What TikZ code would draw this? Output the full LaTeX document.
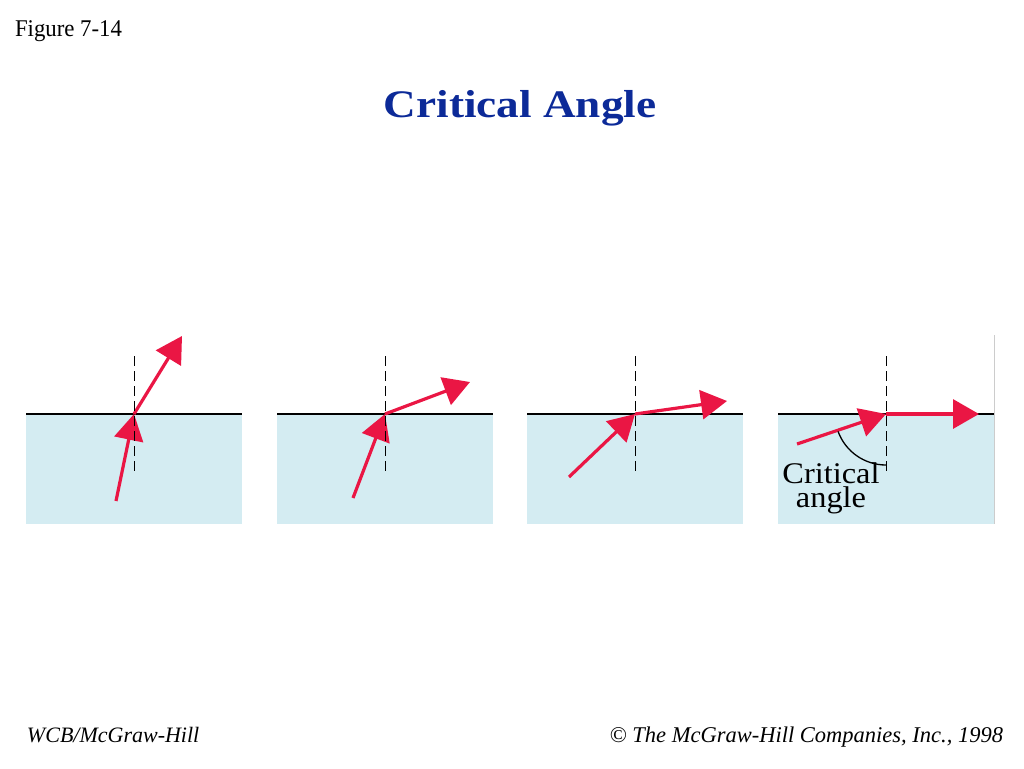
\documentclass[tikz,border=0pt]{standalone}
\usepackage{fontspec}
\setmainfont{Liberation Serif}
\newfontfamily\titlefont[FakeStretch=1.16]{Liberation Serif}
\newfontfamily\figfont[FakeStretch=0.95]{Liberation Serif}
\newfontfamily\labelfont[FakeStretch=1.08]{Liberation Serif}
\usetikzlibrary{arrows.meta}
\definecolor{rayred}{RGB}{234,22,68}
\definecolor{water}{RGB}{212,236,242}
\definecolor{titleblue}{RGB}{12,42,152}

\begin{document}
\begin{tikzpicture}[x=1pt, y=-1pt,
        ray/.style={line width=3.2pt, rayred, -{Triangle[length=26pt, width=29pt]}},
        surface/.style={line width=2.5pt, black},
        normalln/.style={line width=1pt, black, dash pattern=on 10pt off 5pt},
        txt/.style={inner sep=0pt, outer sep=0pt}]
        \useasboundingbox (0,0) rectangle (1024,768);

        % texts
        \node[txt, anchor=base west] (fig) at (15,37) {\fontsize{24}{28}\figfont Figure 7-14};
        \node[txt, anchor=base, text=titleblue] (title) at (520,117) {\fontsize{39}{45}\titlefont\bfseries Critical Angle};
        \node[txt, anchor=base west] (pub) at (27,742) {\fontsize{22}{26}\selectfont\itshape WCB/McGraw-Hill};
        \node[txt, anchor=base east] (copy) at (1003,742) {\fontsize{22.5}{26}\selectfont\itshape \textcopyright\ The McGraw-Hill Companies, Inc., 1998};

        % water and surface
        \foreach \px/\nm in {26/1, 277/2, 527/3, 778/4} {
            \fill[water] (\px,415) rectangle (\px+216,524);
            \draw[surface] (\px,414) -- (\px+216,414);
            \coordinate (O\nm) at (\px+108,414);
        }
        \draw[gray!40, line width=1pt] (994,335) -- (994,524);

        \coordinate (I1) at (116,501);
        \coordinate (R1) at (182,336);
        \coordinate (I2) at (353,498);
        \coordinate (R2) at (470,382);
        \coordinate (I3) at (569,477);
        \coordinate (R3) at (727,401);
        \coordinate (I4) at (797,444);
        \coordinate (R4) at (979,414);

        % rays
        \foreach \nm in {1,2,3,4} {
            \draw[ray] (I\nm) -- (O\nm);
            \draw[ray] (O\nm) -- (R\nm);
        }

        % normals
        \foreach \nm in {1,2,3,4} {
            \draw[normalln] (O\nm) ++(0,-58) -- ++(0,119);
        }

        \draw[line width=1.3pt] (O4) ++(160:51) arc [start angle=160, end angle=90, radius=51];
        \node[txt, anchor=base, align=center, font={\fontsize{30}{24}\labelfont}] (crit) at (831,507) {Critical\\angle};
\end{tikzpicture}
\end{document}
